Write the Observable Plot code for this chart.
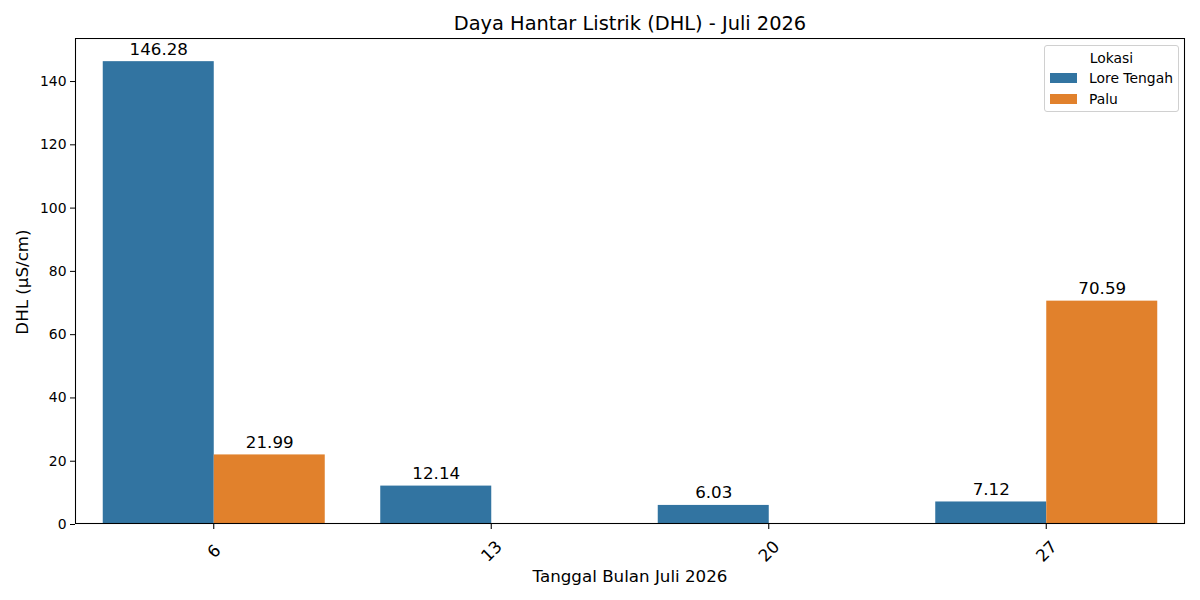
<!DOCTYPE html>
<html>
<head>
<meta charset="utf-8">
<script src="https://cdn.jsdelivr.net/npm/d3@7"></script>
<script src="https://cdn.jsdelivr.net/npm/@observablehq/plot@0.6"></script>
<style>
  body { margin: 0; background: #fff; font-family: "DejaVu Sans", sans-serif; }
  #wrap { position: relative; width: 1200px; height: 600px; overflow: hidden; }
  #title { position: absolute; left: 75px; width: 1110px; top: 12px; text-align: center; font-size: 19.4px; line-height: 24px; color: #000; }
  #chart { position: absolute; left: 0; top: 38px; }
  #xlabel { position: absolute; left: 75px; width: 1110px; top: 565px; text-align: center; font-size: 16.7px; line-height: 22px; }
  #ylabel { position: absolute; left: 22px; top: 282px; transform: translate(-50%, -50%) rotate(-90deg); font-size: 16.7px; white-space: nowrap; line-height: 20px; }
  #legend { position: absolute; left: 1044px; top: 45px; width: 135px; height: 67px; border: 1px solid #d0d0d0; border-radius: 3px; background: rgba(255,255,255,0.8); font-size: 13.9px; box-sizing: border-box; }
  #legend .t { position: absolute; left: 0; width: 100%; top: 4px; text-align: center; line-height: 16px; }
  #legend .row { position: absolute; left: 5px; height: 16px; line-height: 16px; white-space: nowrap; }
  #legend .sw { display: inline-block; width: 27px; height: 10px; vertical-align: middle; margin-right: 12px; margin-top: -2px; }
</style>
</head>
<body>
<div id="wrap">
  <div id="title">Daya Hantar Listrik (DHL) - Juli 2026</div>
  <div id="chart"></div>
  <div id="xlabel">Tanggal Bulan Juli 2026</div>
  <div id="ylabel">DHL (µS/cm)</div>
  <div id="legend"></div>
</div>
<script>
const tanggal = ["6", "13", "20", "27"];
const lokasi = ["Lore Tengah", "Palu"];
const loreTengah = [146.28, 12.14, 6.03, 7.12];
const palu = [21.99, null, null, 70.59];
const warna = ["#3274a1", "#e1812c"];
const yTicks = [0, 20, 40, 60, 80, 100, 120, 140];

const data = [];
tanggal.forEach((t, i) => {
  if (loreTengah[i] != null) data.push({tanggal: t, lokasi: lokasi[0], nilai: loreTengah[i]});
  if (palu[i] != null) data.push({tanggal: t, lokasi: lokasi[1], nilai: palu[i]});
});

const W = 1200, H = 562, mL = 75, mR = 15, mT = 0, mB = 76;

const chart = Plot.plot({
  width: W, height: H,
  marginLeft: mL, marginRight: mR, marginTop: mT, marginBottom: mB,
  style: {fontFamily: "DejaVu Sans, sans-serif", color: "#000", background: "#fff"},
  fx: {domain: tanggal, padding: 0, round: false, axis: null},
  x: {domain: lokasi, paddingInner: 0, paddingOuter: 0.25, round: false, axis: null},
  y: {domain: [0, 153.6], axis: null},
  color: {domain: lokasi, range: warna},
  marks: [
    Plot.barY(data, {fx: "tanggal", x: "lokasi", y: "nilai", fill: "lokasi", inset: 0}),
    Plot.text(data, {fx: "tanggal", x: "lokasi", y: "nilai", text: d => d.nilai.toFixed(2), lineAnchor: "bottom", dy: -7, fontSize: 16.7, fill: "#000"}),
    Plot.axisY({ticks: yTicks, tickSize: 5, tickPadding: 4, fontSize: 13.9, label: null, facetAnchor: "left", stroke: "#000"}),
    Plot.text(tanggal.map(t => ({tanggal: t})), {fx: "tanggal", text: "tanggal", frameAnchor: "bottom", rotate: -45, dy: 27, fontSize: 16.7, textAnchor: "middle", lineAnchor: "middle", fill: "#000"})
  ]
});

const svg = d3.select(chart);
const fx = chart.scale("fx");
const step = (W - mL - mR) / tanggal.length;
tanggal.forEach(t => {
  const cx = fx.apply(t) + step / 2;
  svg.append("line").attr("x1", cx).attr("x2", cx).attr("y1", H - mB).attr("y2", H - mB + 5).attr("stroke", "#000").attr("stroke-width", 1.07);
});
svg.append("rect").attr("x", mL + 0.5).attr("y", mT + 0.5).attr("width", W - mL - mR - 1).attr("height", H - mT - mB - 1)
  .attr("fill", "none").attr("stroke", "#000").attr("stroke-width", 1.07);

document.getElementById("chart").appendChild(chart);

const lg = document.getElementById("legend");
lg.innerHTML = '<div class="t">Lokasi</div>' + lokasi.map((l, i) =>
  `<div class="row" style="top:${24 + i * 21}px"><span class="sw" style="background:${warna[i]}"></span>${l}</div>`).join("");
</script>
</body>
</html>
